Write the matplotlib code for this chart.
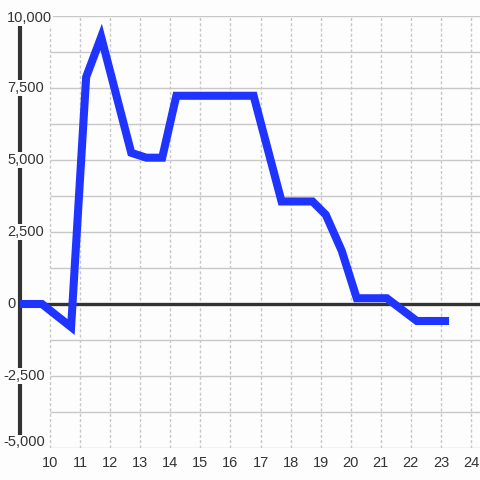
import matplotlib
matplotlib.use("Agg")
import matplotlib.pyplot as plt
from matplotlib.transforms import blended_transform_factory

# Data
x_vals = [9.0, 9.73, 10.7, 11.2, 11.7, 12.7, 13.2, 13.73, 14.2, 16.77,
          17.7, 18.73, 19.17, 19.7, 20.2, 21.2, 22.2, 23.27]
y_vals = [0, 0, -800, 7880, 9270, 5250, 5080, 5080, 7230, 7230,
          3560, 3560, 3100, 1850, 200, 200, -590, -590]
x_ticks = list(range(10, 25))
y_ticks = [10000, 7500, 5000, 2500, 0, -2500, -5000]
y_tick_labels = ["10,000", "7,500", "5,000", "2,500", "0", "-2,500", "-5,000"]
y_grid = [10000 - 1250 * i for i in range(13)]

plt.rcParams['font.family'] = ['Liberation Sans', 'DejaVu Sans']

fig = plt.figure(figsize=(4.8, 4.8), dpi=100, facecolor='#fdfdfd')
ax = fig.add_axes([20/480, 1 - 448/480, 460/480, 432/480])
ax.set_facecolor('#fdfdfd')
ax.set_xlim(9, 24.3)
ax.set_ylim(-5000, 10000)
for s in ax.spines.values():
    s.set_visible(False)

# horizontal grid
ax.hlines([g for g in y_grid if g != 0], 10, 24.3, colors='#c8c8c8', linewidth=1, zorder=1)
# vertical dotted grid
ax.vlines(x_ticks, -5000, 10000, colors='#c8c8c8', linewidth=1, linestyles=(0, (2.2, 1.6)), zorder=1)
# zero line
ax.hlines([0], 9, 24.3, colors='#333333', linewidth=2.4, zorder=2)
# left spine
ax.plot([9, 9], [-5000, 10000], color='#333333', linewidth=3, zorder=2, clip_on=False,
        solid_capstyle='butt')

ax.plot(x_vals, y_vals, color='#1f35ff', linewidth=5.8, solid_joinstyle='miter',
        solid_capstyle='butt', zorder=3, clip_on=False)

ax.set_xticks(x_ticks)
ax.set_xticklabels([str(t) for t in x_ticks], fontsize=10.5, color='#333333')
ax.tick_params(axis='x', length=0, pad=6)
ax.set_yticks([])

tr = blended_transform_factory(fig.transFigure, ax.transData)
for v, lab in zip(y_ticks, y_tick_labels):
    xpix = 3 if v < 0 else 7
    ypos = v
    if v == -5000:
        ypos = -4800
    elif v == 10000:
        ypos = 9930
    ax.text(xpix / 480, ypos, lab, transform=tr, ha='left', va='center', fontsize=10.5,
            color='#333333', zorder=5,
            bbox=dict(facecolor='#fdfdfd', edgecolor='none', pad=0.5))

fig.savefig('out.png', dpi=100, facecolor=fig.get_facecolor())
